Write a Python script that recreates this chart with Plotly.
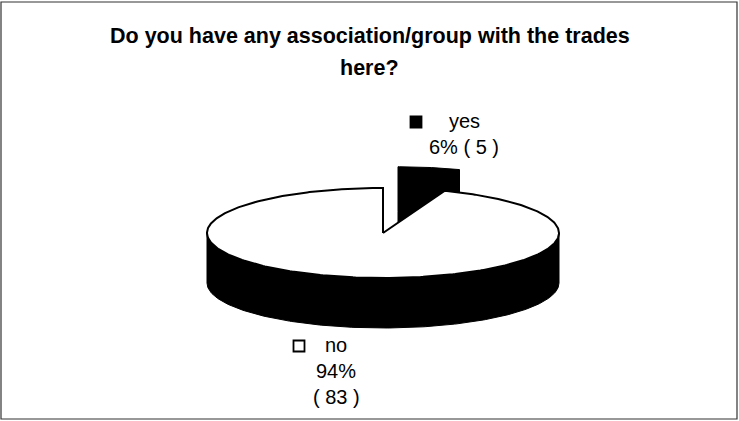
import numpy as np
import plotly.graph_objects as go

# Survey answers
categories = ["yes", "no"]
counts = [5, 83]
slice_colors = ["black", "white"]
title_lines = ["Do you have any association/group with the trades", "here?"]

W, H = 739, 421

# 3-D pie geometry (in pixel-like axis units)
CX, CY = 383.0, 233.0      # centre of the top face
RX, RY = 176.0, 45.0       # ellipse radii of the top face
DEPTH = 50.0               # thickness of the pie
EXPLODE = [0.48, 0.0]      # slice pull-out, as fraction of the radius
START = 90.0               # first slice starts at 12 o'clock, goes clockwise

total = float(sum(counts))


def ell(theta_deg, cx, cy, dy=0.0):
    t = np.radians(theta_deg)
    return cx + RX * np.cos(t), cy - RY * np.sin(t) + dy


fig = go.Figure()

# slice angle spans
spans = []
acc = 0.0
for v in counts:
    a0 = START - 360.0 * acc / total
    a1 = a0 - 360.0 * v / total
    spans.append((a0, a1))
    acc += v

# offsets for exploded slices
offsets = []
for (a0, a1), e in zip(spans, EXPLODE):
    mid = np.radians((a0 + a1) / 2.0)
    offsets.append((e * RX * np.cos(mid), -e * RY * np.sin(mid)))

# --- small "yes" slice, pulled out towards the back: body drawn first
a0, a1 = spans[0]
ox, oy = offsets[0]
cx, cy = CX + ox, CY + oy
th = np.linspace(a0, a1, 40)
ax_, ay_ = ell(th, cx, cy)
bx, by = ell(a1, cx, cy, DEPTH)
xs = [cx] + list(ax_) + [bx, cx, cx]
ys = [cy] + list(ay_) + [by, cy + DEPTH, cy]
fig.add_trace(go.Scatter(x=xs, y=ys, mode="lines", fill="toself",
                         fillcolor=slice_colors[0],
                         line=dict(color="black", width=1),
                         hoverinfo="skip"))

# --- large "no" slice: visible outer wall (front half), black
th_front = np.linspace(180.0, 360.0, 200)
tx, ty = ell(th_front, CX, CY)
bx, by = ell(th_front[::-1], CX, CY, DEPTH)
fig.add_trace(go.Scatter(x=list(tx) + list(bx) + [tx[0]],
                         y=list(ty) + list(by) + [ty[0]],
                         mode="lines", fill="toself", fillcolor="black",
                         line=dict(color="black", width=1),
                         hoverinfo="skip"))

# --- large "no" slice: top face
a0, a1 = spans[1]
th = np.linspace(a0, a1, 400)
fx, fy = ell(th, CX, CY)
fig.add_trace(go.Scatter(x=[CX] + list(fx) + [CX],
                         y=[CY] + list(fy) + [CY],
                         mode="lines", fill="toself",
                         fillcolor=slice_colors[1],
                         line=dict(color="black", width=2),
                         hoverinfo="skip"))

# --- data labels with legend keys
pcts = [f"{round(100 * v / total):d}%" for v in counts]
FONT = dict(family="Liberation Sans, Arial, sans-serif", size=20, color="black")

label_lines = [
    [categories[0], f"{pcts[0]} ( {counts[0]} )"],
    [categories[1], pcts[1], f"( {counts[1]} )"],
]
label_x = [464, 336]
label_y0 = [121, 345]
key_x = [416, 299]
LINE_STEP = 26

for i in range(2):
    for j, txt in enumerate(label_lines[i]):
        fig.add_annotation(x=label_x[i], y=label_y0[i] + j * LINE_STEP,
                           text=txt, showarrow=False, font=FONT,
                           xanchor="center", yanchor="middle")
    fig.add_trace(go.Scatter(x=[key_x[i]], y=[label_y0[i] + 1], mode="markers",
                             marker=dict(symbol="square", size=11,
                                         color=slice_colors[i],
                                         line=dict(color="black", width=1.8)),
                             hoverinfo="skip"))

# --- title
TFONT = dict(family="Liberation Sans, Arial, sans-serif", size=21.5, color="black")
for k, (txt, ty_) in enumerate(zip(title_lines, [36, 68])):
    fig.add_annotation(x=W / 2, y=ty_, text=f"<b>{txt}</b>",
                       showarrow=False, xanchor="center", yanchor="middle",
                       font=TFONT)

# chart frame
fig.add_shape(type="rect", xref="x", yref="y", x0=1, y0=2, x1=737, y1=419,
              line=dict(color="#333333", width=1.2), fillcolor="rgba(0,0,0,0)",
              layer="above")

fig.update_layout(
    width=W, height=H,
    margin=dict(l=0, r=0, t=0, b=0),
    paper_bgcolor="white", plot_bgcolor="white",
    showlegend=False,
    xaxis=dict(range=[0, W], visible=False, fixedrange=True),
    yaxis=dict(range=[H, 0], visible=False, fixedrange=True),
)

fig.write_html("out.html")
